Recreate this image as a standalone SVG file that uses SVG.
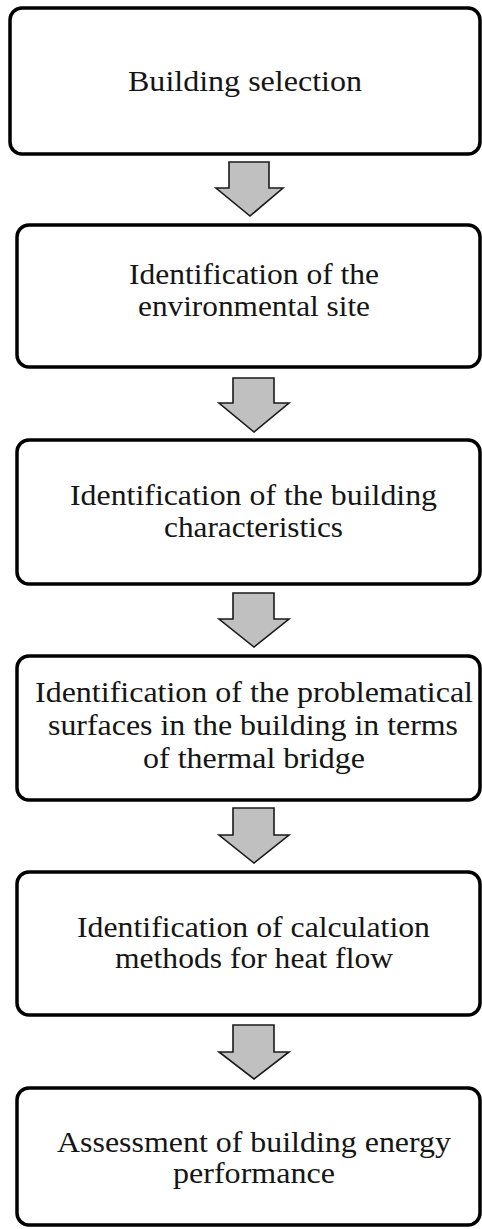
<svg xmlns="http://www.w3.org/2000/svg" width="482" height="1229" viewBox="0 0 482 1229">
<style>
.box{fill:#ffffff;stroke:#000000;stroke-width:3.5}
.arr{fill:#c0c0c0;stroke:#1a1a1a;stroke-width:1.6;stroke-linejoin:miter}
</style>
<rect width="482" height="1229" fill="#ffffff"/>
<g id="connectors">
<path class="arr" d="M229,162 H269 V188 H283 L250,216 L216,188 H229 Z"/>
<path class="arr" d="M233,378 H274 V403 H289 L254,432 L219,403 H233 Z"/>
<path class="arr" d="M233,593 H274 V619 H289 L254,647 L219,619 H233 Z"/>
<path class="arr" d="M233,808 H274 V835 H289 L254,863 L219,835 H233 Z"/>
<path class="arr" d="M233,1025 H274 V1052 H289 L254,1079 L219,1052 H233 Z"/>
</g>
<g font-family="Liberation Serif" font-size="29" fill="#151515">
<g id="n1">
<rect class="box" x="10" y="8" width="470" height="146" rx="12"/>
<text x="128" y="91" textLength="234" lengthAdjust="spacingAndGlyphs">Building selection</text>
</g>
<g id="n2">
<rect class="box" x="17" y="225" width="463" height="142" rx="12"/>
<text x="129" y="284" textLength="250" lengthAdjust="spacingAndGlyphs">Identification of the</text>
<text x="138" y="316" textLength="232" lengthAdjust="spacingAndGlyphs">environmental site</text>
</g>
<g id="n3">
<rect class="box" x="17" y="440" width="463" height="144" rx="12"/>
<text x="70" y="505" textLength="367" lengthAdjust="spacingAndGlyphs">Identification of the building</text>
<text x="164" y="537" textLength="179" lengthAdjust="spacingAndGlyphs">characteristics</text>
</g>
<g id="n4">
<rect class="box" x="17" y="656" width="463" height="144" rx="12"/>
<text x="35" y="702" textLength="438" lengthAdjust="spacingAndGlyphs">Identification of the problematical</text>
<text x="48" y="735" textLength="410" lengthAdjust="spacingAndGlyphs">surfaces in the building in terms</text>
<text x="143" y="768" textLength="222" lengthAdjust="spacingAndGlyphs">of thermal bridge</text>
</g>
<g id="n5">
<rect class="box" x="17" y="872" width="463" height="143" rx="12"/>
<text x="77" y="937" textLength="353" lengthAdjust="spacingAndGlyphs">Identification of calculation</text>
<text x="115" y="968" textLength="278" lengthAdjust="spacingAndGlyphs">methods for heat flow</text>
</g>
<g id="n6">
<rect class="box" x="17" y="1088" width="463" height="137" rx="12"/>
<text x="57" y="1152" textLength="394" lengthAdjust="spacingAndGlyphs">Assessment of building energy</text>
<text x="173" y="1183" textLength="162" lengthAdjust="spacingAndGlyphs">performance</text>
</g>
</g>
</svg>
